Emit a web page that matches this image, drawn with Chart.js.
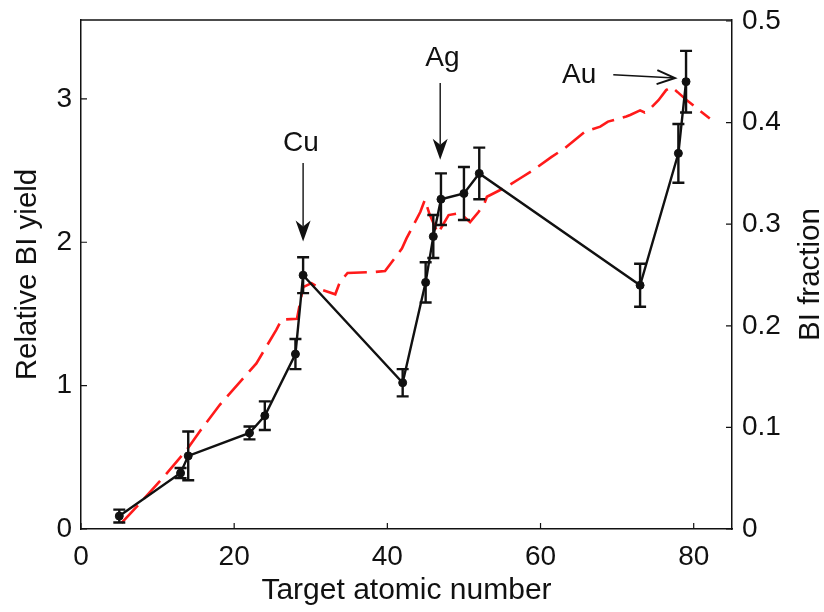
<!DOCTYPE html>
<html><head><meta charset="utf-8">
<script src="https://cdn.jsdelivr.net/npm/chart.js@4/dist/chart.umd.min.js"></script>
<style>html,body{margin:0;padding:0;background:#fff;}#wrap{width:824px;height:612px;}</style>
</head><body><div id="wrap"><canvas id="c" width="824" height="612"></canvas></div>
<script>
// ---- data ----
const atomicNumber  = [5, 13, 14, 22, 24, 28, 29, 42, 45, 46, 47, 50, 52, 73, 78, 79];
const relativeYield = [0.09, 0.39, 0.51, 0.67, 0.79, 1.22, 1.77, 1.02, 1.72, 2.04, 2.30, 2.34, 2.48, 1.70, 2.62, 3.12];
const yieldError    = [0.045, 0.035, 0.17, 0.045, 0.10, 0.105, 0.125, 0.095, 0.14, 0.15, 0.18, 0.185, 0.18, 0.15, 0.205, 0.215];

const calcZ        = [5.3, 7.9, 11.0, 13.8, 15.5, 18.1, 22.9, 25.5, 26.2, 28.2, 29.0, 30.1, 31.6, 33.2, 33.8, 34.8, 38.4, 39.7, 41.9, 42.5, 44.3, 44.9, 45.5, 46.6, 48.0, 49.5, 50.8, 51.9, 52.7, 53.0, 55.6, 57.3, 59.0, 61.4, 63.2, 65.8, 67.8, 68.8, 71.2, 71.7, 73.0, 73.6, 74.1, 75.4, 76.4, 77.1, 77.9, 79.1, 82.1];
const calcFraction = [0.006, 0.027, 0.053, 0.078, 0.096, 0.122, 0.163, 0.196, 0.206, 0.207, 0.238, 0.242, 0.235, 0.231, 0.243, 0.252, 0.253, 0.254, 0.276, 0.286, 0.312, 0.324, 0.310, 0.291, 0.309, 0.311, 0.302, 0.312, 0.321, 0.327, 0.337, 0.345, 0.353, 0.366, 0.375, 0.391, 0.396, 0.401, 0.406, 0.4075, 0.412, 0.410, 0.412, 0.422, 0.432, 0.435, 0.430, 0.422, 0.404];

const xTicks  = [0, 20, 40, 60, 80];
const yTicks  = [0, 1, 2, 3];
const y2Ticks = [0, 0.1, 0.2, 0.3, 0.4, 0.5];

const labels = [
  {text: 'Cu', z: 28.7, y: 2.633, fromZ: 29,   fromY: 2.552, toZ: 29,    toY: 2.005, head: 'filled'},
  {text: 'Ag', z: 47.2, y: 3.226, fromZ: 46.9, fromY: 3.110, toZ: 46.9,  toY: 2.575, head: 'filled'},
  {text: 'Au', z: 65.05, y: 3.110, fromZ: 69.5, fromY: 3.168, toZ: 77.55, toY: 3.145, head: 'open'}
];

// ---- chart ----
const FONT = '"Liberation Sans", Arial, Helvetica, sans-serif';
Chart.defaults.font.family = FONT;
Chart.defaults.color = '#111';

const INK = '#111';
const TICK_LEN = 6;

function drawArrow(ctx, x1, y1, x2, y2, style) {
  const dx = x2 - x1, dy = y2 - y1, len = Math.hypot(dx, dy);
  const ux = dx / len, uy = dy / len, nx = -uy, ny = ux;
  ctx.save();
  ctx.strokeStyle = INK; ctx.fillStyle = INK;
  if (style === 'filled') {
    const L = 21, W = 7.5, notch = 6;
    ctx.lineWidth = 1.4;
    ctx.beginPath(); ctx.moveTo(x1, y1); ctx.lineTo(x2 - (L - notch) * ux, y2 - (L - notch) * uy); ctx.stroke();
    ctx.beginPath();
    ctx.moveTo(x2, y2);
    ctx.lineTo(x2 - L * ux + W * nx, y2 - L * uy + W * ny);
    ctx.lineTo(x2 - (L - notch) * ux, y2 - (L - notch) * uy);
    ctx.lineTo(x2 - L * ux - W * nx, y2 - L * uy - W * ny);
    ctx.closePath(); ctx.fill();
  } else {
    const L = 18, W = 7;
    ctx.lineWidth = 1.4;
    ctx.beginPath(); ctx.moveTo(x1, y1); ctx.lineTo(x2, y2); ctx.stroke();
    ctx.lineWidth = 2;
    ctx.beginPath();
    ctx.moveTo(x2 - L * ux + W * nx, y2 - L * uy + W * ny);
    ctx.lineTo(x2, y2);
    ctx.lineTo(x2 - L * ux - W * nx, y2 - L * uy - W * ny);
    ctx.stroke();
  }
  ctx.restore();
}

const errorBarPlugin = {
  id: 'errorBars',
  afterDatasetsDraw(chart) {
    const {ctx, scales: {x, y}} = chart;
    ctx.save();
    ctx.strokeStyle = INK; ctx.lineWidth = 2.4;
    atomicNumber.forEach((z, i) => {
      const px = x.getPixelForValue(z);
      const top = y.getPixelForValue(relativeYield[i] + yieldError[i]);
      const bot = y.getPixelForValue(relativeYield[i] - yieldError[i]);
      const cap = 6;
      ctx.beginPath();
      ctx.moveTo(px, top); ctx.lineTo(px, bot);
      ctx.moveTo(px - cap, top); ctx.lineTo(px + cap, top);
      ctx.moveTo(px - cap, bot); ctx.lineTo(px + cap, bot);
      ctx.stroke();
    });
    ctx.restore();
  }
};

const framePlugin = {
  id: 'frame',
  afterDraw(chart) {
    const {ctx, chartArea: a, scales: {x, y, y2}} = chart;
    ctx.save();
    ctx.strokeStyle = INK; ctx.lineWidth = 1.5;
    ctx.beginPath(); ctx.moveTo(a.left, a.top); ctx.lineTo(a.right, a.top); ctx.stroke();
    ctx.lineWidth = 1.2;
    ctx.beginPath();
    xTicks.forEach(v => { const p = x.getPixelForValue(v); ctx.moveTo(p, a.bottom); ctx.lineTo(p, a.bottom - TICK_LEN); });
    yTicks.forEach(v => { const p = y.getPixelForValue(v); ctx.moveTo(a.left, p); ctx.lineTo(a.left + TICK_LEN, p); });
    y2Ticks.forEach(v => { const p = y2.getPixelForValue(v); ctx.moveTo(a.right, p); ctx.lineTo(a.right - TICK_LEN, p); });
    ctx.stroke();

    ctx.fillStyle = INK;
    ctx.font = '28px ' + FONT;
    ctx.textAlign = 'center'; ctx.textBaseline = 'alphabetic';
    labels.forEach(l => {
      ctx.fillText(l.text, x.getPixelForValue(l.z), y.getPixelForValue(l.y));
      drawArrow(ctx, x.getPixelForValue(l.fromZ), y.getPixelForValue(l.fromY),
                x.getPixelForValue(l.toZ), y.getPixelForValue(l.toY), l.head);
    });

    ctx.font = '29.5px ' + FONT;
    ctx.textBaseline = 'middle';
    ctx.translate(y2.right - 13.5, (a.top + a.bottom) / 2);
    ctx.rotate(-Math.PI / 2);
    ctx.fillText('BI fraction', 0, 0);
    ctx.restore();
  }
};

const fmt = v => (v === 0 ? '0' : (Math.round(v * 10) / 10).toString());
const hiddenTicks = len => ({display: true, drawOnChartArea: false, drawTicks: true, tickLength: len, color: 'rgba(0,0,0,0)'});

new Chart(document.getElementById('c'), {
  type: 'scatter',
  data: {
    datasets: [
      {
        label: 'Relative BI yield',
        data: atomicNumber.map((z, i) => ({x: z, y: relativeYield[i]})),
        yAxisID: 'y',
        showLine: true,
        borderColor: INK,
        borderWidth: 2.4,
        pointRadius: 4,
        pointBackgroundColor: INK,
        pointBorderColor: INK,
        pointBorderWidth: 1
      },
      {
        label: 'BI fraction',
        data: calcZ.map((z, i) => ({x: z, y: calcFraction[i]})),
        yAxisID: 'y2',
        showLine: true,
        borderColor: '#ff1a1a',
        borderWidth: 2.6,
        borderDash: [24, 9],
        pointRadius: 0
      }
    ]
  },
  options: {
    responsive: false,
    animation: false,
    devicePixelRatio: 1,
    layout: {padding: {left: 0, right: 0, top: 20, bottom: 0}},
    plugins: {legend: {display: false}, tooltip: {enabled: false}},
    scales: {
      x: {
        type: 'linear', position: 'bottom', min: 0, max: 85,
        grid: hiddenTicks(11),
        border: {color: INK, width: 1.5},
        ticks: {font: {size: 28}, color: INK, padding: 0, maxRotation: 0, callback: fmt},
        afterBuildTicks: s => { s.ticks = xTicks.map(v => ({value: v})); },
        afterFit: s => { s.height = 83; },
        title: {display: true, text: 'Target atomic number', font: {size: 30}, color: INK, padding: {top: 0, bottom: 3}}
      },
      y: {
        type: 'linear', position: 'left', min: 0, max: 3.55,
        grid: hiddenTicks(9),
        border: {color: INK, width: 1.5},
        ticks: {font: {size: 28}, color: INK, padding: 0, callback: fmt},
        afterBuildTicks: s => { s.ticks = yTicks.map(v => ({value: v})); },
        afterFit: s => { s.width = 81; },
        title: {display: true, text: 'Relative BI yield', font: {size: 29.5}, color: INK, padding: {top: 10, bottom: 0}}
      },
      y2: {
        type: 'linear', position: 'right', min: 0, max: 0.501,
        grid: hiddenTicks(10),
        border: {color: INK, width: 1.5},
        ticks: {font: {size: 28}, color: INK, padding: 0, callback: fmt},
        afterBuildTicks: s => { s.ticks = y2Ticks.map(v => ({value: v})); },
        afterFit: s => { s.width = 92; }
      }
    }
  },
  plugins: [errorBarPlugin, framePlugin]
});
</script>
</body></html>
